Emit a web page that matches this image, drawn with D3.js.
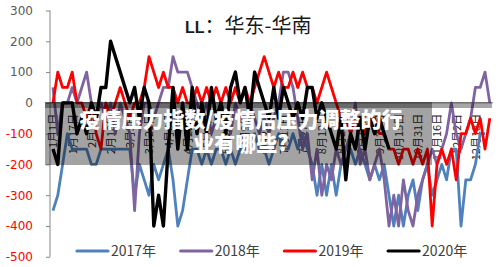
<!DOCTYPE html>
<html>
<head>
<meta charset="utf-8">
<script src="https://cdn.jsdelivr.net/npm/d3@7"></script>
<style>
  body { margin: 0; background: #fff; }
  svg { display: block; }
</style>
</head>
<body>
<svg id="chart" width="500" height="267"></svg>
<script>
// values read every 4 days along a leap-year calendar (1月1日 .. 12月31日)
const stepDays = 4;
const yearNames = ["2017年", "2018年", "2019年", "2020年"];
const yTicks = [300, 200, 100, 0, -100, -200, -300, -400, -500];
const labelDays = d3.range(0, 366, 16);

const ll2017 = [-350,-300,-200,-100,-150,-150,-150,-150,-200,-200,
  -150,-150,-150,-150,-150,-150,-150,-300,-200,-250,
  -300,-200,-250,-200,-150,-250,-400,-350,-250,-150,
  -150,-200,-150,-200,-150,-150,-200,-150,-200,-150,
  -150,-150,-100,-150,-150,-200,-150,-100,-150,-150,
  -100,-150,-100,-150,-200,-300,-200,-300,-200,-300,
  -200,-200,-150,-200,-150,-200,-250,-200,-250,-200,
  -300,-400,-300,-400,-300,-250,-350,-250,-200,-300,
  -250,-200,-250,-150,-150,-400,-250,-250,-200,-100,
  -100];

const ll2018 = [50,-100,0,0,50,0,50,100,0,-50,
  0,-50,0,-100,0,-50,-100,-350,-100,0,
  0,-50,0,50,50,150,100,100,100,50,
  0,-50,0,-100,-50,0,-50,-100,0,-50,
  -50,0,-50,-100,-50,-100,-50,0,100,100,
  50,-50,-150,-100,-250,-150,-300,-200,-250,-150,
  -200,-150,-100,0,-200,-150,-250,-200,-150,-250,
  -400,-300,-400,-250,-350,-400,-300,-250,-200,-150,
  -200,-150,-100,0,-100,-150,-100,-50,50,50,
  100,0];

const ll2019 = [0,100,50,50,100,0,0,-50,0,-100,
  -150,0,-50,0,50,0,-50,0,0,50,
  150,100,50,100,50,50,0,50,0,0,
  50,0,50,0,50,0,50,0,50,0,
  50,0,50,100,150,100,50,100,50,50,
  100,50,100,50,50,0,50,100,50,0,
  -50,-50,-100,-50,-50,-100,-50,-50,-100,-100,
  -150,-150,-200,-150,-150,-200,-150,-200,-150,-400,
  -200,-150,-200,-150,-250,-100,-100,-50,-100,-50,
  -150,-50];

const ll2020 = [-150,-200,0,0,0,-100,-50,-100,0,-50,
  50,50,200,150,100,50,0,50,-50,50,
  0,-400,-300,-400,-150,50,-150,0,-150,50,
  -100,0,-100,50,-50,0,-100,50,100,0,
  50,-50,100,50,0,-50,50,-50,50,0,
  -50,0,-50,50,50,-50,0,-50,-100,-150,
  -50,-250,-100,-150,-50,-150,-50,-100,-50,-100,
  -150];

const seriesValues = [ll2017, ll2018, ll2019, ll2020];
const colors = ["#4f81bd", "#8064a2", "#ff0000", "#000000"];

const svg = d3.select("#chart");

const x = d3.scaleLinear().domain([0, 365]).range([53, 491]);
const y = d3.scaleLinear().domain([-500, 300]).range([256.8, 10.5]);

const labelDate = d3.timeFormat("%-m月%-d日");
const dayToDate = d => d3.timeDay.offset(new Date(2020, 0, 1), d);

// y axis
const yAxis = svg.append("g")
    .attr("transform", "translate(50,0)")
    .call(d3.axisLeft(y).tickValues(yTicks).tickSize(4).tickPadding(13).tickFormat(d => String(d)));
yAxis.select(".domain").attr("stroke", "#868686").attr("d", "M0," + y(300) + "V" + y(-500));
yAxis.selectAll(".tick line").attr("stroke", "#868686");
yAxis.selectAll("text")
    .attr("font-family", "DejaVu Sans, sans-serif")
    .attr("font-size", 12)
    .attr("fill", d => d < 0 ? "#ff0000" : "#595959");

// category axis at zero
const xAxis = svg.append("g")
    .attr("transform", "translate(0," + y(0) + ")")
    .call(d3.axisBottom(x).tickValues(labelDays).tickSize(0).tickFormat(d => labelDate(dayToDate(d))));
xAxis.select(".domain").attr("stroke", "#868686").attr("d", "M50,0H493");
xAxis.selectAll("text")
    .attr("transform", "rotate(-90)")
    .attr("x", -11)
    .attr("y", 0)
    .attr("dy", "0.35em")
    .attr("text-anchor", "end")
    .attr("font-family", "Noto Sans CJK SC, sans-serif")
    .attr("font-size", 11)
    .attr("fill", "#262626");

// lines
const line = d3.line()
    .x(d => x(d.day))
    .y(d => y(d.value));

svg.append("g")
  .selectAll("path")
  .data(seriesValues.map((vals, k) => ({
      color: colors[k],
      width: k === 3 ? 3.4 : 2.8,
      points: vals.map((v, i) => ({ day: i * stepDays, value: v }))
  })))
  .enter().append("path")
    .attr("fill", "none")
    .attr("stroke", d => d.color)
    .attr("stroke-width", d => d.width)
    .attr("stroke-linejoin", "round")
    .attr("d", d => line(d.points));

// title
const title = svg.append("text")
    .attr("x", 185)
    .attr("y", 33)
    .attr("fill", "#1a1a1a");
title.append("tspan")
    .attr("font-family", "Liberation Sans, Arial, sans-serif")
    .attr("font-weight", "bold")
    .attr("font-size", 16)
    .text("LL");
title.append("tspan")
    .attr("font-family", "Noto Sans CJK SC, sans-serif")
    .attr("font-size", 20)
    .text("：华东-华南");

// banner overlay
svg.append("rect")
    .attr("x", 45).attr("y", 102).attr("width", 447).attr("height", 6)
    .attr("fill", "rgba(0,0,0,0.35)");
svg.append("rect")
    .attr("x", 45).attr("y", 102).attr("width", 387).attr("height", 63)
    .attr("fill", "rgba(0,0,0,0.36)");

svg.append("g")
    .attr("font-family", "Noto Sans CJK SC, sans-serif")
    .attr("font-weight", 900)
    .attr("font-size", 21)
    .attr("fill", "#ffffff")
    .attr("text-anchor", "middle")
  .selectAll("text")
  .data(["疫情压力指数/疫情后压力调整的行", "业有哪些?"])
  .enter().append("text")
    .attr("x", 241)
    .attr("y", (d, i) => 127 + i * 24)
    .text(d => d);

// legend
const legend = svg.append("g")
  .selectAll("g")
  .data(yearNames)
  .enter().append("g")
    .attr("transform", (d, i) => "translate(" + (77 + i * 103.7) + ",251)");
legend.append("line")
    .attr("x1", 0).attr("x2", 31)
    .attr("stroke", (d, i) => colors[i])
    .attr("stroke-width", 3.2)
    .attr("stroke-linecap", "round");
legend.append("text")
    .attr("x", 34)
    .attr("dy", "0.35em")
    .attr("font-family", "Noto Sans CJK SC, sans-serif")
    .attr("font-size", 14)
    .attr("fill", "#404040")
    .text(d => d);
</script>
</body>
</html>
